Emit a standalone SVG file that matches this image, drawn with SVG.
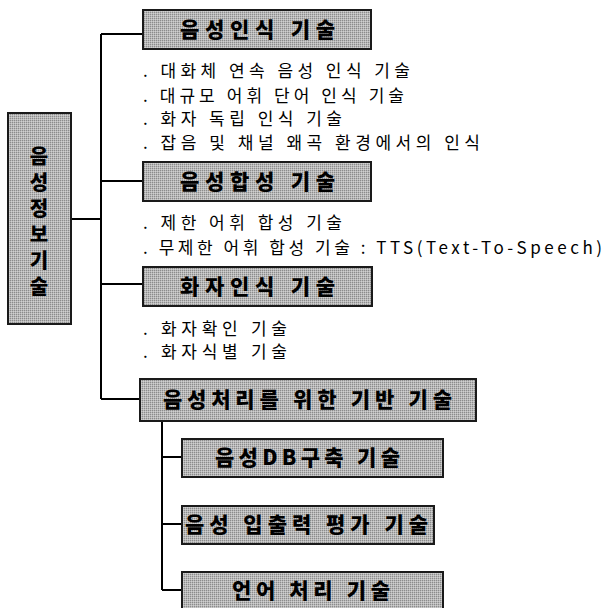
<svg xmlns="http://www.w3.org/2000/svg" width="605" height="608" viewBox="0 0 605 608">
<style>
.box{fill:url(#dither);stroke:#1a1a1a;stroke-width:2}
.hd{font-family:"Noto Sans CJK KR","Noto Sans",sans-serif;font-weight:900;font-size:21px;fill:#000;text-anchor:start}
.lt{font-family:"Noto Sans CJK KR","Noto Sans",sans-serif;font-weight:900;font-size:20px;fill:#000}
.bl{font-family:"Noto Sans CJK KR","Liberation Sans",sans-serif;font-size:17px;fill:#000}
.ln{fill:none;stroke:#000;stroke-width:2}
</style>
<defs>
<pattern id="dither" width="2" height="2" patternUnits="userSpaceOnUse">
<rect width="2" height="2" fill="#b8b8b8"/>
<rect width="1" height="1" fill="#8c8c8c"/>
<rect x="1" y="1" width="1" height="1" fill="#d0d0d0"/>
</pattern>
</defs>
<rect width="605" height="608" fill="#fff"/>
<g id="connectors">
<path class="ln" d="M101,34 V399"/>
<path class="ln" d="M71,219 H101"/>
<path class="ln" d="M101,34 H143"/>
<path class="ln" d="M101,181 H143"/>
<path class="ln" d="M101,284 H143"/>
<path class="ln" d="M101,399 H140"/>
<path class="ln" d="M162,421 V590"/>
<path class="ln" d="M162,457 H182"/>
<path class="ln" d="M162,524 H182"/>
<path class="ln" d="M162,590 H182"/>
</g>
<g id="root">
<rect class="box" x="8" y="113" width="63" height="211"/>
<text class="lt" x="39" y="146" writing-mode="vertical-rl" style="writing-mode:vertical-rl;text-orientation:upright;letter-spacing:6px">음성정보기술</text>
</g>
<g id="n1">
<rect class="box" x="143" y="10" width="228" height="39"/>
<text class="hd" x="180" y="37" textLength="155" lengthAdjust="spacing">음성인식 기술</text>
</g>
<g id="n1-items">
<text class="bl" x="143" y="77" textLength="267" lengthAdjust="spacing">. 대화체 연속 음성 인식 기술</text>
<text class="bl" x="143" y="102" textLength="261" lengthAdjust="spacing">. 대규모 어휘 단어 인식 기술</text>
<text class="bl" x="143" y="125" textLength="199" lengthAdjust="spacing">. 화자 독립 인식 기술</text>
<text class="bl" x="143" y="149" textLength="337" lengthAdjust="spacing">. 잡음 및 채널 왜곡 환경에서의 인식</text>
</g>
<g id="n2">
<rect class="box" x="143" y="162" width="228" height="39"/>
<text class="hd" x="180" y="189" textLength="155" lengthAdjust="spacing">음성합성 기술</text>
</g>
<g id="n2-items">
<text class="bl" x="143" y="229" textLength="199" lengthAdjust="spacing">. 제한 어휘 합성 기술</text>
<text class="bl" x="143" y="254" textLength="459" lengthAdjust="spacing">. 무제한 어휘 합성 기술 : TTS(Text-To-Speech)</text>
</g>
<g id="n3">
<rect class="box" x="143" y="267" width="229" height="39"/>
<text class="hd" x="180" y="294" textLength="155" lengthAdjust="spacing">화자인식 기술</text>
</g>
<g id="n3-items">
<text class="bl" x="143" y="335" textLength="144" lengthAdjust="spacing">. 화자확인 기술</text>
<text class="bl" x="143" y="358" textLength="144" lengthAdjust="spacing">. 화자식별 기술</text>
</g>
<g id="n4">
<rect class="box" x="140" y="379" width="336" height="42"/>
<text class="hd" x="163" y="407" textLength="289" lengthAdjust="spacing">음성처리를 위한 기반 기술</text>
</g>
<g id="n4a">
<rect class="box" x="182" y="439" width="261" height="38"/>
<text class="hd" x="215" y="465" textLength="185" lengthAdjust="spacing">음성DB구축 기술</text>
</g>
<g id="n4b">
<rect class="box" x="182" y="506" width="252" height="38"/>
<text class="hd" x="185" y="532" textLength="243" lengthAdjust="spacing">음성 입출력 평가 기술</text>
</g>
<g id="n4c">
<rect class="box" x="182" y="572" width="261" height="38"/>
<text class="hd" x="232" y="598" textLength="158" lengthAdjust="spacing">언어 처리 기술</text>
</g>
</svg>
